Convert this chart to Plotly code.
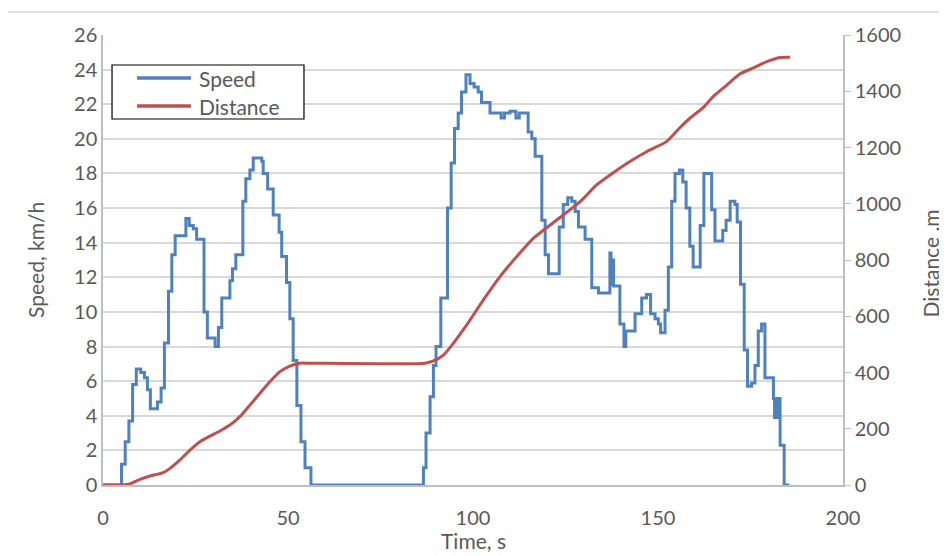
import plotly.graph_objects as go

# Speed (km/h): step change points (time s, speed km/h)
speed_time = [0, 5, 6, 7, 8, 9, 10.2, 11.2, 12, 12.8, 14.7, 15.7, 16.6, 17.7, 18.6, 19.5,
              22.4, 23.3, 24.4, 25.3, 27.3, 28.2, 30.3, 31.2, 32.1, 34.3, 35.0, 35.9, 37.8,
              38.6, 39.7, 40.6, 42.9, 43.3, 44.5, 46.0, 47.6, 48.3, 49.6, 50.5, 51.4, 52.4,
              53.5, 54.6, 56.2, 86.6, 87.3, 88.4, 89.3, 90.0, 91.3, 93.1, 94.1, 95.0, 96.0,
              96.9, 98.1, 99.2, 100.3, 101.4, 102.3, 104.6, 107.6, 108.5, 110.0, 111.6, 112.5,
              114.9, 115.9, 116.8, 118.6, 119.5, 120.4, 123.3, 124.4, 125.6, 126.7, 127.6,
              128.5, 130.3, 132.1, 133.9, 137.0, 137.3, 137.6, 138.0, 139.7, 140.8, 141.3,
              143.8, 145.6, 146.9, 148.0, 149.2, 150.1, 150.7, 151.9, 152.8, 153.7, 154.6,
              155.8, 156.7, 157.6, 158.6, 159.5, 161.4, 162.4, 164.5, 165.4, 167.5, 168.4,
              169.5, 170.8, 171.4, 172.3, 173.3, 174.2, 175.3, 176.2, 177.1, 178.0, 178.9,
              181.2, 181.5, 181.8, 182.2, 182.5, 183.0, 184.1, 185.5]
speed_kmh = [0, 1.2, 2.5, 3.7, 5.8, 6.7, 6.5, 6.2, 5.5, 4.4, 4.8, 5.6, 8.2, 11.2, 13.3, 14.4,
             15.4, 15.0, 14.8, 14.2, 10.0, 8.5, 8.0, 9.1, 10.8, 11.8, 12.5, 13.3, 16.4,
             17.7, 18.2, 18.9, 18.7, 18.0, 17.1, 15.6, 14.6, 13.2, 11.7, 9.6, 7.2, 4.6,
             2.5, 1.0, 0, 1.0, 3.0, 5.1, 6.9, 8.0, 10.8, 16.0, 18.6, 20.6, 21.5,
             22.7, 23.7, 23.2, 23.0, 22.7, 22.1, 21.5, 21.2, 21.5, 21.6, 21.2, 21.5,
             20.4, 20.0, 19.0, 15.3, 13.3, 12.2, 14.9, 16.2, 16.6, 16.4, 15.8,
             14.9, 14.2, 11.4, 11.1, 13.4, 11.6, 13.0, 11.5, 9.3, 8.0, 8.9,
             9.9, 10.8, 11.0, 9.9, 9.6, 9.3, 8.8, 10.1, 12.6, 16.4, 18.0,
             18.2, 17.5, 16.0, 13.8, 12.6, 15.0, 18.0, 15.9, 14.1, 14.7, 15.3,
             16.4, 16.2, 15.2, 11.6, 7.8, 5.7, 5.9, 6.9, 8.9, 9.3, 6.2,
             5.0, 3.9, 5.0, 3.9, 5.0, 2.3, 0, 0]

# Distance (m)
dist_time = [0, 5, 7.3, 10, 12.7, 16.3, 18.1, 20.8, 23.5, 26.2, 28.9, 31.6, 34.3, 37, 39.7,
             42.4, 45.1, 47.8, 50.5, 53.2, 56, 87, 89.3, 92, 94.7, 98.3, 102.8, 107.3, 111.8,
             116.3, 120.8, 124.4, 129.4, 133.4, 137.9, 142.4, 146.9, 152.3, 155.9, 158.6,
             162.2, 164.9, 168.6, 172.2, 175.8, 179.4, 183, 185.7]
dist_m = [0, 0, 4, 20, 32, 44, 59, 89, 124, 154, 174, 192, 213, 243, 284,
          326, 367, 403, 423, 433, 433, 433, 441, 462, 504, 569, 658, 741, 812,
          877, 924, 960, 1013, 1067, 1110, 1150, 1185, 1221, 1270, 1304,
          1342, 1381, 1422, 1462, 1483, 1505, 1520, 1521]

x_ticks = [0, 50, 100, 150, 200]
speed_ticks = list(range(0, 27, 2))
dist_ticks = list(range(0, 1601, 200))

series_names = ["Speed", "Distance"]
series_colors = ["#4f81bd", "#c0504d"]

FONT = "Lato, Carlito, Calibri, sans-serif"
TXT = "#595959"
AX = "#bfbfbf"

fig = go.Figure()
fig.add_trace(go.Scatter(x=speed_time, y=speed_kmh, name=series_names[0], mode="lines",
                         line=dict(color=series_colors[0], width=3, shape="hv"), yaxis="y"))
fig.add_trace(go.Scatter(x=dist_time, y=dist_m, name=series_names[1], mode="lines",
                         line=dict(color=series_colors[1], width=3, shape="spline", smoothing=0.6),
                         yaxis="y2"))

# manual legend (box, sample lines, labels) in paper coordinates
shapes = [dict(type="rect", xref="paper", yref="paper",
               x0=-0.131, x1=1.2, y0=-0.3, y1=1.051,
               line=dict(color="#d9d9d9", width=1.5), fillcolor="rgba(0,0,0,0)", layer="below"),
          dict(type="rect", xref="paper", yref="paper",
               x0=0.0122, x1=0.2716, y0=0.8133, y1=0.9333,
               line=dict(color="black", width=1.2), fillcolor="white", layer="above")]
annotations = []
legend_y = [0.9044, 0.8422]
for name, color, ly in zip(series_names, series_colors, legend_y):
    shapes.append(dict(type="line", xref="paper", yref="paper", x0=0.0459, x1=0.1189,
                       y0=ly, y1=ly, line=dict(color=color, width=3.5), layer="above"))
    annotations.append(dict(text=name, xref="paper", yref="paper", x=0.1270, y=ly,
                            xanchor="left", yanchor="middle", showarrow=False,
                            font=dict(size=21, color=TXT)))

# axis titles
annotations += [
    dict(text="Speed, km/h", xref="paper", yref="paper", x=-0.092, y=0.5, textangle=-90,
         xanchor="center", yanchor="middle", showarrow=False, font=dict(size=21, color=TXT)),
    dict(text="Time, s", xref="paper", yref="paper", x=0.5, y=-0.124,
         xanchor="center", yanchor="middle", showarrow=False, font=dict(size=21, color=TXT)),
    dict(text="Distance ,m", xref="paper", yref="paper", x=1.118, y=0.493, textangle=-90,
         xanchor="center", yanchor="middle", showarrow=False, font=dict(size=21, color=TXT)),
]

# page body has an 8px margin, so the figure starts at (8, 8) in the window
fig.update_layout(
    width=939, height=548,
    margin=dict(l=95, r=104, t=27, b=71, autoexpand=False),
    paper_bgcolor="white", plot_bgcolor="white",
    font=dict(family=FONT, size=20, color=TXT),
    xaxis=dict(range=[0, 200], tickvals=x_ticks, showgrid=False, zeroline=False,
               showline=True, linecolor=AX, linewidth=1.5, automargin=False,
               ticks="outside", ticklen=14, tickcolor="rgba(0,0,0,0)",
               tickfont=dict(size=20, color=TXT)),
    yaxis=dict(range=[0, 26], tickvals=speed_ticks, showgrid=True, gridcolor="#d9d9d9",
               gridwidth=1.5, zeroline=False, showline=True, linecolor=AX, linewidth=1.5,
               automargin=False, ticks="", tickfont=dict(size=20, color=TXT)),
    yaxis2=dict(range=[0, 1600], tickvals=dist_ticks, overlaying="y", side="right",
                showgrid=False, zeroline=False, showline=True, linecolor=AX, linewidth=1.5,
                automargin=False, ticks="outside", ticklen=6, tickcolor=AX,
                tickfont=dict(size=20, color=TXT)),
    showlegend=False,
    shapes=shapes,
    annotations=annotations,
)

fig.write_html("out.html")
